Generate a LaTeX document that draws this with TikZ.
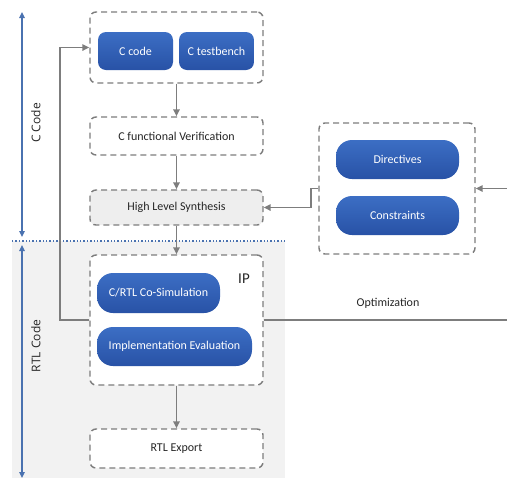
\documentclass[tikz,border=0pt]{standalone}
\usepackage{fontspec}
\setmainfont{Carlito}
\newfontfamily\labfont{Open Sans}
\usetikzlibrary{arrows.meta}
\definecolor{lgray}{RGB}{125,125,125}
\definecolor{bluetop}{RGB}{60,110,196}
\definecolor{bluebot}{RGB}{40,82,166}
\definecolor{axisblue}{RGB}{74,114,176}
\definecolor{bggray}{RGB}{242,242,242}
\definecolor{hlsfill}{RGB}{238,238,238}
\begin{document}
\begin{tikzpicture}[x=1pt,y=-1pt,
  dbox/.style={draw=lgray,line width=1.4pt,dash pattern=on 6pt off 4pt,rounded corners=6pt,fill=white,font=\fontsize{12}{14}\selectfont,text=black!85},
  bbox/.style={rounded corners=8pt,top color=bluetop,bottom color=bluebot,draw=none,text=white,font=\fontsize{12}{14}\selectfont},
  pill/.style={bbox,rounded corners=16pt},
  conn/.style={draw=lgray,line width=1.5pt,-{Triangle[length=7pt,width=6.5pt]}},
  line/.style={draw=lgray,line width=1.5pt},
  axis/.style={draw=axisblue,line width=1.3pt,{Triangle[length=6pt,width=5.5pt]}-{Triangle[length=6pt,width=5.5pt]}}
]
\useasboundingbox (0,0) rectangle (507,483);
% background for RTL area
\fill[bggray] (12,241) rectangle (285,478);
\draw[axisblue,line width=1.4pt,dotted] (12,241) -- (285,241);
% axes
\coordinate (a1) at (22,12);
\coordinate (a2) at (22,237);
\coordinate (a3) at (22,245);
\coordinate (a4) at (22,478);
\draw[axis] (a1) -- (a2);
\draw[axis] (a3) -- (a4);
\node[rotate=90,font=\labfont\fontsize{12}{14}\selectfont,text=black!85] (lc) at (36,123) {C Code};
\node[rotate=90,font=\labfont\fontsize{12}{14}\selectfont,text=black!85] (lr) at (36,346) {RTL Code};
% left column
\node[dbox,minimum width=173pt,minimum height=71pt] (top) at (176.5,47.5) {};
\node[bbox,minimum width=75pt,minimum height=38pt] (cc) at (135.5,51) {C code};
\node[bbox,minimum width=75pt,minimum height=38pt] (ctb) at (216.5,51) {C testbench};
\node[dbox,minimum width=173pt,minimum height=38pt] (cfv) at (176.5,136) {C functional Verification};
\node[dbox,fill=hlsfill,minimum width=173pt,minimum height=35pt] (hls) at (176.5,207.5) {High Level Synthesis};
\node[dbox,minimum width=173pt,minimum height=130pt] (ip) at (176.5,320) {};
\node[font=\fontsize{15}{17}\selectfont,text=black!85] (iplab) at (244,279) {IP};
\node[pill,minimum width=123pt,minimum height=40pt] (cosim) at (158.5,293) {C/RTL Co-Simulation};
\node[pill,minimum width=155pt,minimum height=39pt] (impl) at (174.5,346.5) {Implementation Evaluation};
\node[dbox,minimum width=173pt,minimum height=39pt] (rtl) at (176.5,448.5) {RTL Export};
% right group
\node[dbox,minimum width=156pt,minimum height=131pt] (grp) at (397,188.5) {};
\node[pill,minimum width=123pt,minimum height=39pt] (dir) at (397.5,159.5) {Directives};
\node[pill,minimum width=123pt,minimum height=39pt] (con) at (397.5,215.5) {Constraints};
% vertical flow
\draw[conn] (top.south) -- (cfv.north);
\draw[conn] (cfv.south) -- (hls.north);
\draw[conn] (hls.south) -- (ip.north);
\draw[conn] (ip.south) -- (rtl.north);
% feedback loop
\coordinate (fb) at (60,320);
\draw[conn] (ip.west) -- (fb) |- (top.west);
% optimization
\coordinate (optend) at (507,320);
\draw[line] (ip.east) -- (optend);
\node[font=\fontsize{12}{14}\selectfont,text=black!85] (opt) at (388,303) {Optimization};
\coordinate (rin) at (507,188.5);
\draw[conn] (rin) -- (grp.east);
\coordinate (jog) at (311,188.5);
\draw[conn] (grp.west) -- (jog) |- (hls.east);
\end{tikzpicture}
\end{document}
